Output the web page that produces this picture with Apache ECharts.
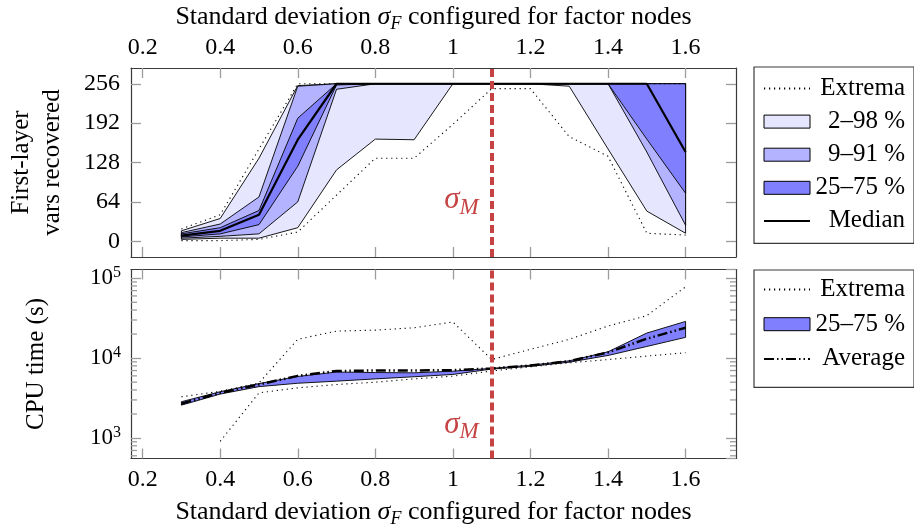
<!DOCTYPE html>
<html>
<head>
<meta charset="utf-8">
<script src="https://cdn.jsdelivr.net/npm/echarts@6/dist/echarts.min.js"></script>
<style>
  html, body { margin: 0; padding: 0; background: #fff; }
  #chart { width: 914px; height: 529px; }
</style>
</head>
<body>
<div id="chart"></div>
<script>
// 数据：x 为因子节点的标准差
const sigmaF = [0.3, 0.4, 0.5, 0.6, 0.7, 0.8, 0.9, 1.0, 1.1, 1.2, 1.3, 1.4, 1.5, 1.6];
const sigmaM = 1.1;
const xTicks = [0.2, 0.4, 0.6, 0.8, 1.0, 1.2, 1.4, 1.6];
const recTicks = [0, 64, 128, 192, 256];
const cpuMinorTicks = [600, 700, 800, 900, 2000, 3000, 4000, 5000, 6000, 7000, 8000, 9000,
  20000, 30000, 40000, 50000, 60000, 70000, 80000, 90000];

// 上图：恢复的首层变量数
const recExtHi = [20, 43, 150, 256, 256, 256, 256, 256, 256, 256, 256, 256, 256, 256];
const recP98 = [17, 37, 135, 253, 256, 256, 256, 256, 256, 256, 256, 256, 256, 256];
const recP91 = [14, 28, 72, 252, 256, 256, 256, 256, 256, 256, 256, 256, 256, 256];
const recP75 = [12, 22, 50, 200, 256, 256, 256, 256, 256, 256, 256, 256, 256, 256];
const recMedian = [9, 17, 43, 165, 256, 256, 256, 256, 256, 256, 256, 256, 256, 145];
const recP25 = [7, 12, 27, 122, 254, 256, 256, 256, 256, 256, 256, 256, 166, 78];
const recP9 = [5, 8, 12, 64, 247, 256, 256, 256, 256, 256, 256, 256, 145, 26];
const recP2 = [3, 5, 5, 22, 116, 166, 165, 256, 256, 256, 252, 150, 49, 13];
const recExtLo = [1, 1, 3, 15, 75, 135, 135, 190, 248, 248, 170, 138, 13, 10];

// 下图：CPU 时间 (s)
const cpuExtHi = [3280, 3850, 4900, 17200, 21800, 22400, 24000, 28300, 9600, 12900, 17200, 25200, 34000, 78000];
const cpuP75 = [2850, 3800, 4800, 5900, 6700, 6600, 6550, 6870, 7450, 8150, 9250, 12000, 20600, 28800];
const cpuAvg = [2700, 3680, 4680, 6000, 6900, 7000, 7000, 7080, 7430, 8090, 9170, 11800, 17500, 24000];
const cpuP25 = [2580, 3550, 4400, 4850, 5150, 5500, 5850, 6250, 7300, 7900, 8900, 10800, 14000, 18200];
const cpuExtLo = [null, 910, 3680, 4250, 4680, 5000, 5500, 5950, 6900, 7800, 8750, 9600, 10600, 11700];

const FONT = "'Liberation Serif', 'DejaVu Serif', serif";
const RED = '#c64343';
const FRAME = '#3a3a3a';
const TICK = '#9c9c9c';
const C10 = '#e6e6ff', C30 = '#b3b3ff', C50 = '#8080ff';

const X_MIN = 0.17, X_MAX = 1.73;
const CPU_MIN = 555, CPU_MAX = 128500;

const pairs = (ys) => sigmaF.map((x, i) => [x, ys[i]]);

// 带状区域：用 custom 画一个闭合多边形
function band(name, lo, hi, color, axis) {
  return {
    type: 'custom', name,
    xAxisIndex: axis, yAxisIndex: axis,
    itemStyle: { color, borderColor: '#000', borderWidth: 1 },
    data: sigmaF.map((x, i) => [x, lo[i], hi[i]]),
    encode: { x: 0, y: [1, 2] },
    silent: true,
    renderItem(params, api) {
      if (params.dataIndex !== 0) return;
      const pts = [];
      for (let i = 0; i < sigmaF.length; i++) pts.push(api.coord([sigmaF[i], hi[i]]));
      for (let i = sigmaF.length - 1; i >= 0; i--) pts.push(api.coord([sigmaF[i], lo[i]]));
      return {
        type: 'polygon', shape: { points: pts },
        style: { fill: color, stroke: '#000', lineWidth: 0.9 }
      };
    }
  };
}

function line(name, ys, axis, lineStyle, extra) {
  return Object.assign({
    type: 'line', name, data: pairs(ys),
    xAxisIndex: axis, yAxisIndex: axis,
    symbol: 'none', silent: true, connectNulls: false,
    itemStyle: { color: '#000' },
    lineStyle: Object.assign({ color: '#000' }, lineStyle)
  }, extra || {});
}

// 对数轴的次刻度：左右两边各画一小段
const minorTickSeries = {
  type: 'custom', xAxisIndex: 2, yAxisIndex: 2, silent: true, clip: false,
  data: cpuMinorTicks.map(v => [X_MIN, v]),
  encode: { x: 0, y: 1 },
  renderItem(params, api) {
    const v = api.value(1);
    const l = api.coord([X_MIN, v]), r = api.coord([X_MAX, v]);
    const st = { stroke: TICK, lineWidth: 1.3 };
    return {
      type: 'group', children: [
        { type: 'line', shape: { x1: l[0], y1: l[1], x2: l[0] + 6, y2: l[1] }, style: st },
        { type: 'line', shape: { x1: r[0] - 6, y1: r[1], x2: r[0], y2: r[1] }, style: st }
      ]
    };
  }
};

const dotted = { width: 1.1, type: [1.2, 3.8] };

const sigmaLabel = {
  show: true, position: 'left', distance: 13,
  formatter: '{s|σ}{m|M}',
  rich: {
    s: { fontFamily: FONT, fontStyle: 'italic', fontSize: 31, lineHeight: 38, color: RED },
    m: { fontFamily: FONT, fontStyle: 'italic', fontSize: 23, lineHeight: 22, verticalAlign: 'bottom', color: RED }
  }
};
const sigmaLine = {
  silent: true, symbol: ['none', 'none'],
  label: { show: false },
  lineStyle: { color: RED, width: 4, type: [8, 4] },
  data: [{ xAxis: sigmaM }]
};

const nameRich = {
  t: { fontFamily: FONT, fontSize: 26, lineHeight: 32, color: '#000' },
  i: { fontFamily: FONT, fontSize: 26, fontStyle: 'italic', lineHeight: 32, color: '#000' },
  f: { fontFamily: FONT, fontSize: 18, fontStyle: 'italic', lineHeight: 18, verticalAlign: 'bottom', color: '#000' }
};
const xName = '{t|Standard deviation }{i|σ}{f|F}{t| configured for factor nodes}';

function xAxis(gridIndex, position, labels) {
  const top = position === 'top';
  return {
    type: 'value', gridIndex, position, min: X_MIN, max: X_MAX,
    name: labels ? xName : '', nameLocation: 'middle', nameGap: top ? 35 : 38,
    nameTextStyle: { rich: nameRich },
    axisLine: { show: true, onZero: false, lineStyle: { color: FRAME, width: 1.2 } },
    axisTick: { show: true, inside: true, length: 10, customValues: xTicks, lineStyle: { color: TICK, width: 1.3 } },
    axisLabel: { show: labels, customValues: xTicks, margin: top ? 8 : 9, fontFamily: FONT, fontSize: 24, color: '#000',
      formatter: v => String(Math.round(v * 10) / 10) },
    splitLine: { show: false }
  };
}

function recAxis(position, labels) {
  return {
    type: 'value', gridIndex: 0, position, min: -25.6, max: 281.6,
    name: labels ? 'First-layer\nvars recovered' : '', nameLocation: 'middle', nameGap: 63,
    nameTextStyle: { fontFamily: FONT, fontSize: 25, lineHeight: 31, color: '#000' },
    axisLine: { show: true, onZero: false, lineStyle: { color: FRAME, width: 1.2 } },
    axisTick: { show: true, inside: true, length: 10, customValues: recTicks, lineStyle: { color: TICK, width: 1.3 } },
    axisLabel: { show: labels, customValues: recTicks, margin: 11, fontFamily: FONT, fontSize: 24, color: '#000' },
    splitLine: { show: false }
  };
}

function cpuAxis(position, labels) {
  return {
    type: 'log', logBase: 10, gridIndex: 1, position, min: CPU_MIN, max: CPU_MAX,
    name: labels ? 'CPU time (s)' : '', nameLocation: 'middle', nameGap: 82,
    nameTextStyle: { fontFamily: FONT, fontSize: 25, color: '#000' },
    axisLine: { show: true, onZero: false, lineStyle: { color: FRAME, width: 1.2 } },
    axisTick: { show: true, inside: true, length: 10, lineStyle: { color: TICK, width: 1.3 } },
    axisLabel: {
      show: labels, margin: 10, showMinLabel: false, showMaxLabel: false,
      formatter(v) {
        const e = Math.round(Math.log10(v));
        if (Math.abs(Math.pow(10, e) - v) > v * 1e-6) return '';
        return '{b|10}{s|' + e + '}';
      },
      rich: {
        b: { fontFamily: FONT, fontSize: 23, lineHeight: 27, color: '#000' },
        s: { fontFamily: FONT, fontSize: 16, lineHeight: 16, verticalAlign: 'top', color: '#000' }
      }
    },
    splitLine: { show: false }
  };
}

const hideSymbol = { opacity: 0 };
const legendBase = {
  orient: 'vertical', left: 754,
  itemWidth: 46, itemHeight: 13,
  borderColor: FRAME, borderWidth: 1.2,
  selectedMode: false,
  formatter: name => '{a|' + name + '}',
  textStyle: {
    color: '#000',
    rich: { a: { fontFamily: FONT, fontSize: 25, lineHeight: 24, width: 90, align: 'right', color: '#000' } }
  }
};

const chart = echarts.init(document.getElementById('chart'));
chart.setOption({
  animation: false,
  textStyle: { fontFamily: FONT },
  grid: [
    { left: 131, top: 68, width: 605, height: 189, outerBoundsMode: 'none' },
    { left: 131, top: 269.5, width: 605, height: 189, outerBoundsMode: 'none' }
  ],
  xAxis: [xAxis(0, 'top', true), xAxis(0, 'bottom', false), xAxis(1, 'bottom', true), xAxis(1, 'top', false)],
  yAxis: [recAxis('left', true), recAxis('right', false), cpuAxis('left', true), cpuAxis('right', false)],
  legend: [
    Object.assign({}, legendBase, {
      top: 67, padding: [9, 9, 10, 9], itemGap: 8.1,
      data: [
        { name: 'Extrema', itemStyle: hideSymbol },
        { name: '2–98 %', icon: 'rect', itemStyle: { color: C10, borderColor: '#000', borderWidth: 1 } },
        { name: '9–91 %', icon: 'rect', itemStyle: { color: C30, borderColor: '#000', borderWidth: 1 } },
        { name: '25–75 %', icon: 'rect', itemStyle: { color: C50, borderColor: '#000', borderWidth: 1 } },
        { name: 'Median', itemStyle: hideSymbol }
      ]
    }),
    Object.assign({}, legendBase, {
      top: 270, padding: [7, 9, 16, 9], itemGap: 9.7,
      data: [
        { name: 'Extrema', itemStyle: hideSymbol },
        { name: '25–75 %', icon: 'rect', itemStyle: { color: C50, borderColor: '#000', borderWidth: 1 } },
        { name: 'Average', itemStyle: hideSymbol }
      ]
    })
  ],
  series: [
    band('2–98 %', recP2, recP98, C10, 0),
    band('9–91 %', recP9, recP91, C30, 0),
    band('25–75 %', recP25, recP75, C50, 0),
    line('Median', recMedian, 0, { width: 2.2 }, {
      markLine: sigmaLine,
      markPoint: { symbol: 'circle', symbolSize: 0, label: sigmaLabel, data: [{ coord: [sigmaM, 67] }] }
    }),
    line('Extrema', recExtHi, 0, dotted),
    line('Extrema', recExtLo, 0, dotted),

    minorTickSeries,
    band('25–75 %', cpuP25, cpuP75, C50, 2),
    line('Average', cpuAvg, 2, { width: 2.5, type: [10, 3, 1.5, 3, 1.5, 3] }, {
      markLine: sigmaLine,
      markPoint: { symbol: 'circle', symbolSize: 0, label: sigmaLabel, data: [{ coord: [sigmaM, 1470] }] }
    }),
    line('Extrema', cpuExtHi, 2, dotted),
    line('Extrema', cpuExtLo, 2, dotted)
  ]
});
</script>
</body>
</html>
